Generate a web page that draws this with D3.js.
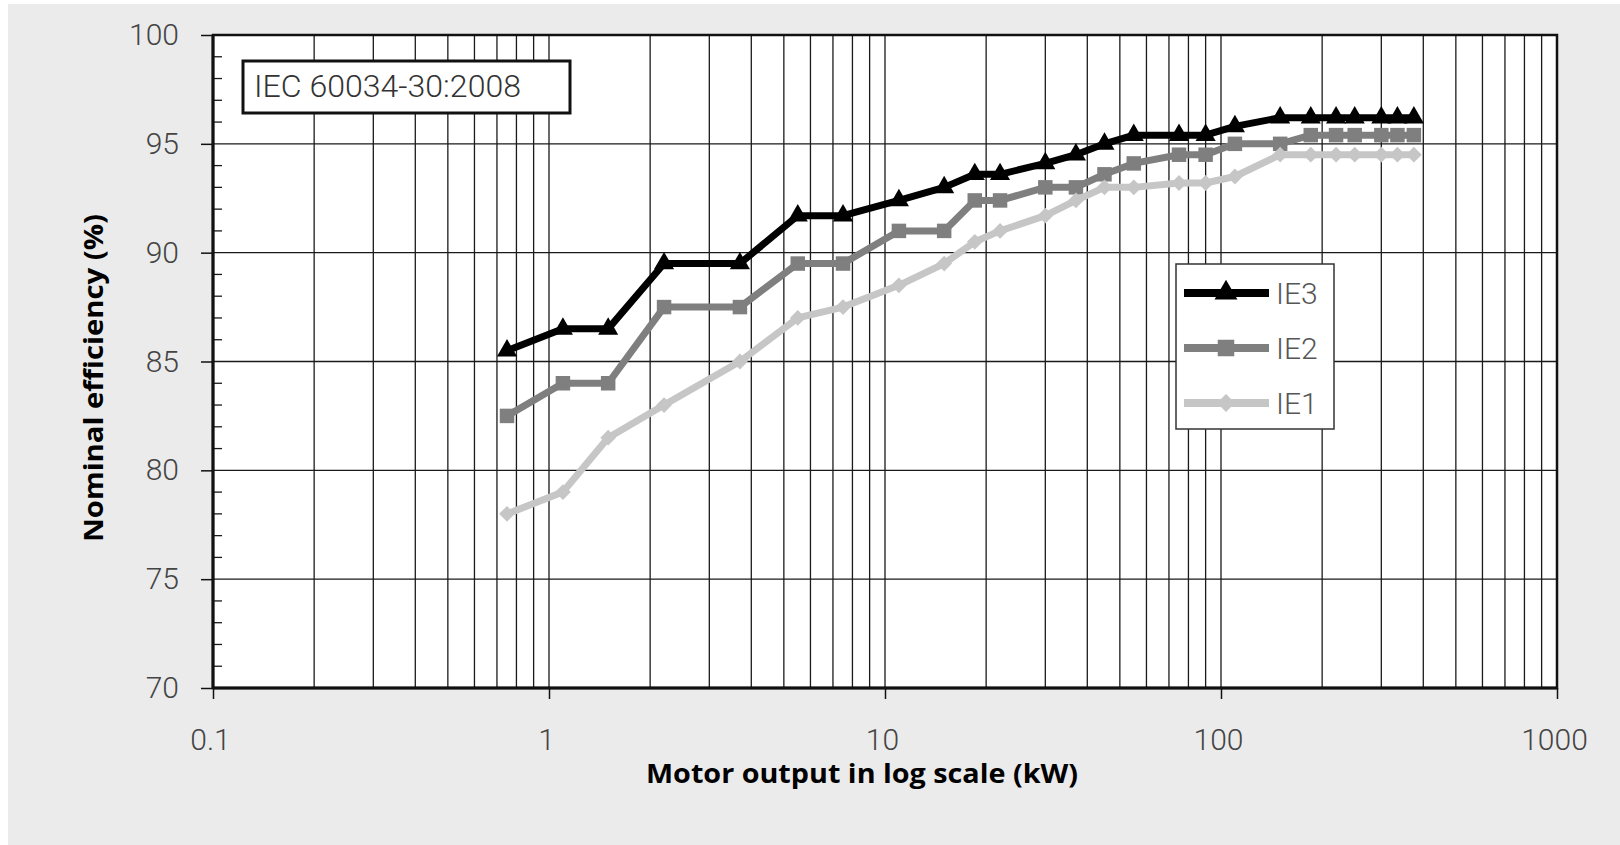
<!DOCTYPE html>
<html lang="en">
<head>
<meta charset="UTF-8">
<title>IEC 60034-30:2008 efficiency classes</title>
<script src="https://d3js.org/d3.v7.min.js"></script>
<style>
    body { margin: 0; background: #fff; }
    svg text { font-family: Roboto, "Liberation Sans", sans-serif; }
</style>
</head>
<body>
<div class="canvas"></div>
<script>
// motor rating (kW) and nominal efficiency (%) per class
const power = [0.75, 1.1, 1.5, 2.2, 3.7, 5.5, 7.5, 11, 15, 18.5, 22, 30, 37, 45, 55, 75, 90, 110, 150, 185, 220, 250, 300, 335, 375]
const ie3 = [85.5, 86.5, 86.5, 89.5, 89.5, 91.7, 91.7, 92.4, 93.0, 93.6, 93.6, 94.1, 94.5, 95.0, 95.4, 95.4, 95.4, 95.8, 96.2, 96.2, 96.2, 96.2, 96.2, 96.2, 96.2]
const ie2 = [82.5, 84.0, 84.0, 87.5, 87.5, 89.5, 89.5, 91.0, 91.0, 92.4, 92.4, 93.0, 93.0, 93.6, 94.1, 94.5, 94.5, 95.0, 95.0, 95.4, 95.4, 95.4, 95.4, 95.4, 95.4]
const ie1 = [78.0, 79.0, 81.5, 83.0, 85.0, 87.0, 87.5, 88.5, 89.5, 90.5, 91.0, 91.7, 92.4, 93.0, 93.0, 93.2, 93.2, 93.5, 94.5, 94.5, 94.5, 94.5, 94.5, 94.5, 94.5]
const seriesNames = ['IE3', 'IE2', 'IE1']
const xTickLabels = [0.1, 1, 10, 100, 1000]
const yTickLabels = [70, 75, 80, 85, 90, 95, 100]

const width = 1620
const height = 845
// plot margins
let [mt, mb, mr, ml] = [35, 157, 63, 213]
const graphWidth = width - ml - mr
const graphHeight = height - mt - mb

const series = [
    { name: seriesNames[0], values: ie3, color: '#000000', symbol: d3.symbolTriangle, size: 175, rotate: 0 },
    { name: seriesNames[1], values: ie2, color: '#7f7f7f', symbol: d3.symbolSquare, size: 210, rotate: 0 },
    { name: seriesNames[2], values: ie1, color: '#c6c6c6', symbol: d3.symbolSquare, size: 125, rotate: 45 }
]

const svg = d3.select('.canvas')
    .append('svg')
    .attr('width', width)
    .attr('height', height)

svg.append('rect')
    .attr('x', 8).attr('y', 4)
    .attr('width', width - 8).attr('height', height - 4)
    .attr('fill', '#ebebeb')

const x = d3.scaleLog()
    .domain([0.1, 1000])
    .range([ml, ml + graphWidth])

const y = d3.scaleLinear()
    .domain([70, 100])
    .range([mt + graphHeight, mt])

// plot background
svg.append('rect')
    .attr('x', ml).attr('y', mt)
    .attr('width', graphWidth).attr('height', graphHeight)
    .attr('fill', '#fff')

// vertical grid (every log minor step)
svg.append('g')
    .selectAll('line')
    .data(x.ticks())
    .enter()
    .append('line')
    .attr('x1', d => x(d)).attr('x2', d => x(d))
    .attr('y1', mt).attr('y2', mt + graphHeight)
    .attr('stroke', '#1a1a1a')
    .attr('stroke-width', 1.3)

// horizontal grid
svg.append('g')
    .selectAll('line')
    .data(yTickLabels)
    .enter()
    .append('line')
    .attr('x1', ml).attr('x2', ml + graphWidth)
    .attr('y1', d => y(d)).attr('y2', d => y(d))
    .attr('stroke', '#1a1a1a')
    .attr('stroke-width', 1.3)

// minor y ticks inside the left axis
svg.append('g')
    .selectAll('line')
    .data(d3.range(71, 100).filter(d => d % 5 !== 0))
    .enter()
    .append('line')
    .attr('x1', ml).attr('x2', ml + 9)
    .attr('y1', d => y(d)).attr('y2', d => y(d))
    .attr('stroke', '#1a1a1a')
    .attr('stroke-width', 1.3)

// frame
svg.append('rect')
    .attr('x', ml).attr('y', mt)
    .attr('width', graphWidth).attr('height', graphHeight)
    .attr('fill', 'none')
    .attr('stroke', '#111')
    .attr('stroke-width', 2.5)

const xAxis = d3.axisBottom(x)
    .tickValues(xTickLabels)
    .tickSize(11)
    .tickPadding(30)
    .tickFormat(d => d3.format('~g')(d))
const yAxis = d3.axisLeft(y)
    .tickValues(yTickLabels)
    .tickSize(12)
    .tickPadding(22)

const xAxisG = svg.append('g')
    .attr('transform', `translate(0, ${mt + graphHeight})`)
    .call(xAxis)
const yAxisG = svg.append('g')
    .attr('transform', `translate(${ml}, 0)`)
    .call(yAxis)

for (const g of [xAxisG, yAxisG]) {
    g.select('.domain').attr('stroke', '#111').attr('stroke-width', 3)
    g.selectAll('.tick line').attr('stroke', '#111').attr('stroke-width', 1.5)
    g.selectAll('.tick text')
        .attr('fill', '#444')
        .style('font-family', 'Roboto, sans-serif')
        .style('font-weight', 300)
        .style('font-size', '30px')
}
xAxisG.select('.domain').attr('d', `M${ml},0H${ml + graphWidth}`)
yAxisG.select('.domain').attr('d', `M0,${mt}V${mt + graphHeight}`)
xAxisG.selectAll('.tick text').attr('dx', -3)

// series lines and markers
const line = d3.line()
    .x((d, i) => x(power[i]))
    .y(d => y(d))

series.forEach(s => {
    svg.append('path')
        .attr('fill', 'none')
        .attr('stroke', s.color)
        .attr('stroke-width', 7)
        .attr('stroke-linejoin', 'round')
        .attr('d', line(s.values))

    svg.append('g')
        .selectAll('path')
        .data(s.values)
        .enter()
        .append('path')
        .attr('d', d3.symbol().type(s.symbol).size(s.size))
        .attr('transform', (d, i) => `translate(${x(power[i])}, ${y(d)}) rotate(${s.rotate})`)
        .attr('fill', s.color)
})

// standard label box
svg.append('rect')
    .attr('x', 243).attr('y', 61)
    .attr('width', 327).attr('height', 52)
    .attr('fill', '#fff')
    .attr('stroke', '#111')
    .attr('stroke-width', 3)
svg.append('text')
    .attr('x', 254).attr('y', 97)
    .text('IEC 60034-30:2008')
    .attr('fill', '#333')
    .attr('textLength', 267)
    .attr('lengthAdjust', 'spacingAndGlyphs')
    .style('font-weight', 300)
    .style('font-size', '31px')

// legend
const legend = svg.append('g')
legend.append('rect')
    .attr('x', 1176).attr('y', 264)
    .attr('width', 158).attr('height', 165)
    .attr('fill', '#fff')
    .attr('stroke', '#333')
    .attr('stroke-width', 1.5)

const legendItems = legend.selectAll('.item')
    .data(series)
    .enter()
    .append('g')
    .attr('class', 'item')
    .attr('transform', (d, i) => `translate(1184, ${293 + i * 55})`)

legendItems.append('line')
    .attr('x1', 0).attr('x2', 85)
    .attr('stroke', d => d.color)
    .attr('stroke-width', 8)
legendItems.append('path')
    .attr('d', d => d3.symbol().type(d.symbol).size(d.size * 1.3)())
    .attr('transform', d => `translate(42, 0) rotate(${d.rotate})`)
    .attr('fill', d => d.color)
legendItems.append('text')
    .attr('x', 92).attr('dy', '0.36em')
    .text(d => d.name)
    .attr('fill', '#555')
    .style('font-weight', 300)
    .style('font-size', '30px')

// axis titles
svg.append('text')
    .attr('x', 862).attr('y', 783)
    .attr('text-anchor', 'middle')
    .attr('textLength', 432)
    .attr('lengthAdjust', 'spacingAndGlyphs')
    .text('Motor output in log scale (kW)')
    .style('font-family', '"Open Sans", sans-serif')
    .style('font-weight', 700)
    .style('font-size', '27px')
svg.append('text')
    .attr('transform', 'translate(103, 378) rotate(-90)')
    .attr('text-anchor', 'middle')
    .attr('textLength', 328)
    .attr('lengthAdjust', 'spacingAndGlyphs')
    .text('Nominal efficiency (%)')
    .style('font-family', '"Open Sans", sans-serif')
    .style('font-weight', 700)
    .style('font-size', '27px')
</script>
</body>
</html>
